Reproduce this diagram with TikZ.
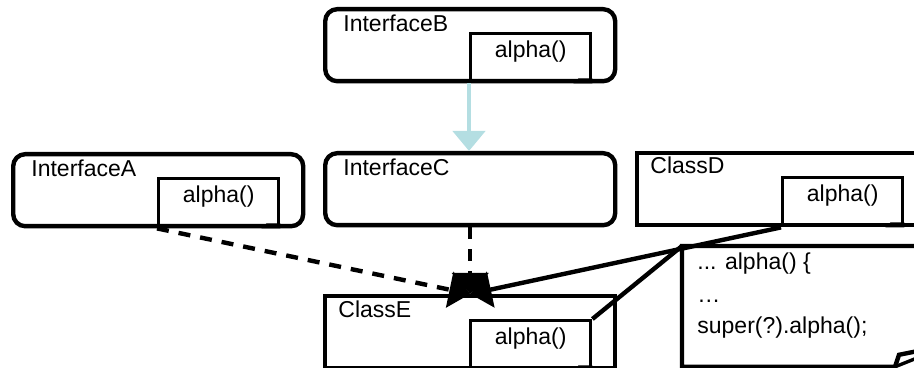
\documentclass[tikz,border=0pt]{standalone}
\usepackage{fontspec}
\setmainfont{Liberation Sans}
\usetikzlibrary{arrows.meta}
\definecolor{inhblue}{RGB}{180,222,226}

\begin{document}
\begin{tikzpicture}[x=0.5pt,y=-0.5pt,
		font=\fontsize{11.5pt}{13.5pt}\selectfont,
		box/.style={draw,line width=2.2pt,anchor=north west,inner sep=0pt,minimum width=145pt,minimum height=36pt},
		iface/.style={box,rounded corners=6pt},
		klass/.style={box},
		opbox/.style={draw,line width=1.7pt,anchor=south east,inner sep=0pt,minimum width=60pt,minimum height=24pt,text height=8pt,text depth=8pt},
		title/.style={anchor=base west,inner sep=0pt},
		dep/.style={line width=2.2pt,dash pattern=on 6pt off 5pt,-{Triangle[length=10.5pt,width=18pt]}},
		gen/.style={line width=2.2pt,-{Triangle[length=10.5pt,width=18pt]}}]
		\clip (0,0) rectangle (914,368);

		% interfaces
		\node [iface] (ib) at (323,7) {};
		\node [iface] (ia) at (11,152) {};
		\node [iface] (ic) at (323,151) {};

		% classes
		\node [klass] (cd) at (635,151) {};
		\node [klass] (ce) at (323,294) {};

		% names
		\node [title] (ibname) at ([shift={(10pt,-12.5pt)}]ib.north west) {InterfaceB};
		\node [title] (ianame) at ([shift={(10pt,-12.5pt)}]ia.north west) {InterfaceA};
		\node [title] (icname) at ([shift={(10pt,-12.5pt)}]ic.north west) {InterfaceC};
		\node [title] (cdname) at ([shift={(7.5pt,-11.5pt)}]cd.north west) {ClassD};
		\node [title] (cename) at ([shift={(7.5pt,-11.5pt)}]ce.north west) {ClassE};

		% operations
		\node [opbox] (ibop) at ([xshift=-12.5pt]ib.south east) {alpha()};
		\node [opbox] (iaop) at ([xshift=-12.5pt]ia.south east) {alpha()};
		\node [opbox] (cdop) at ([xshift=-12.5pt]cd.south east) {alpha()};
		\node [opbox] (ceop) at ([xshift=-12.5pt]ce.south east) {alpha()};
		\foreach \op in {ibop,iaop,cdop,ceop}
			\fill ([xshift=-9.5pt]\op.south east) -- ([shift={(-7pt,2.5pt)}]\op.south east) -- ([yshift=2.5pt]\op.south east) -- (\op.south east) -- cycle;

		% note
		\node [anchor=north west,inner sep=0pt,minimum width=130pt,minimum height=60pt] (note) at (682,246) {};
		\draw [line width=2.2pt] (note.north east) -- (note.north west) -- (note.south west) -- ++(213,0) coordinate (fold) -- ++(4,-12) -- ++(20,-4);
		\draw [line width=1.7pt] (fold) -- ++(25,-10);
		\node [title] (line1) at ([shift={(7.5pt,-12pt)}]note.north west) {... alpha() \{};
		\node [title] (line2) at ([yshift=-16pt]line1.base west) {…};
		\node [title] (line3) at ([yshift=-15.5pt]line2.base west) {super(?).alpha();};

		% connectors
		\draw [line width=2.2pt,inhblue,-{Triangle[length=10pt,width=16pt]}] (ibop.south west) -- (ibop.south west |- ic.north);
		\draw [dep] (iaop.south west) -- (ce.north);
		\draw [dep] (ic.south) -- (ce.north);
		\draw [gen] (cdop.south west) -- (ce.north);
		\draw [line width=2.2pt] (note.north west) -- (ceop.north east);
	\end{tikzpicture}
\end{document}
